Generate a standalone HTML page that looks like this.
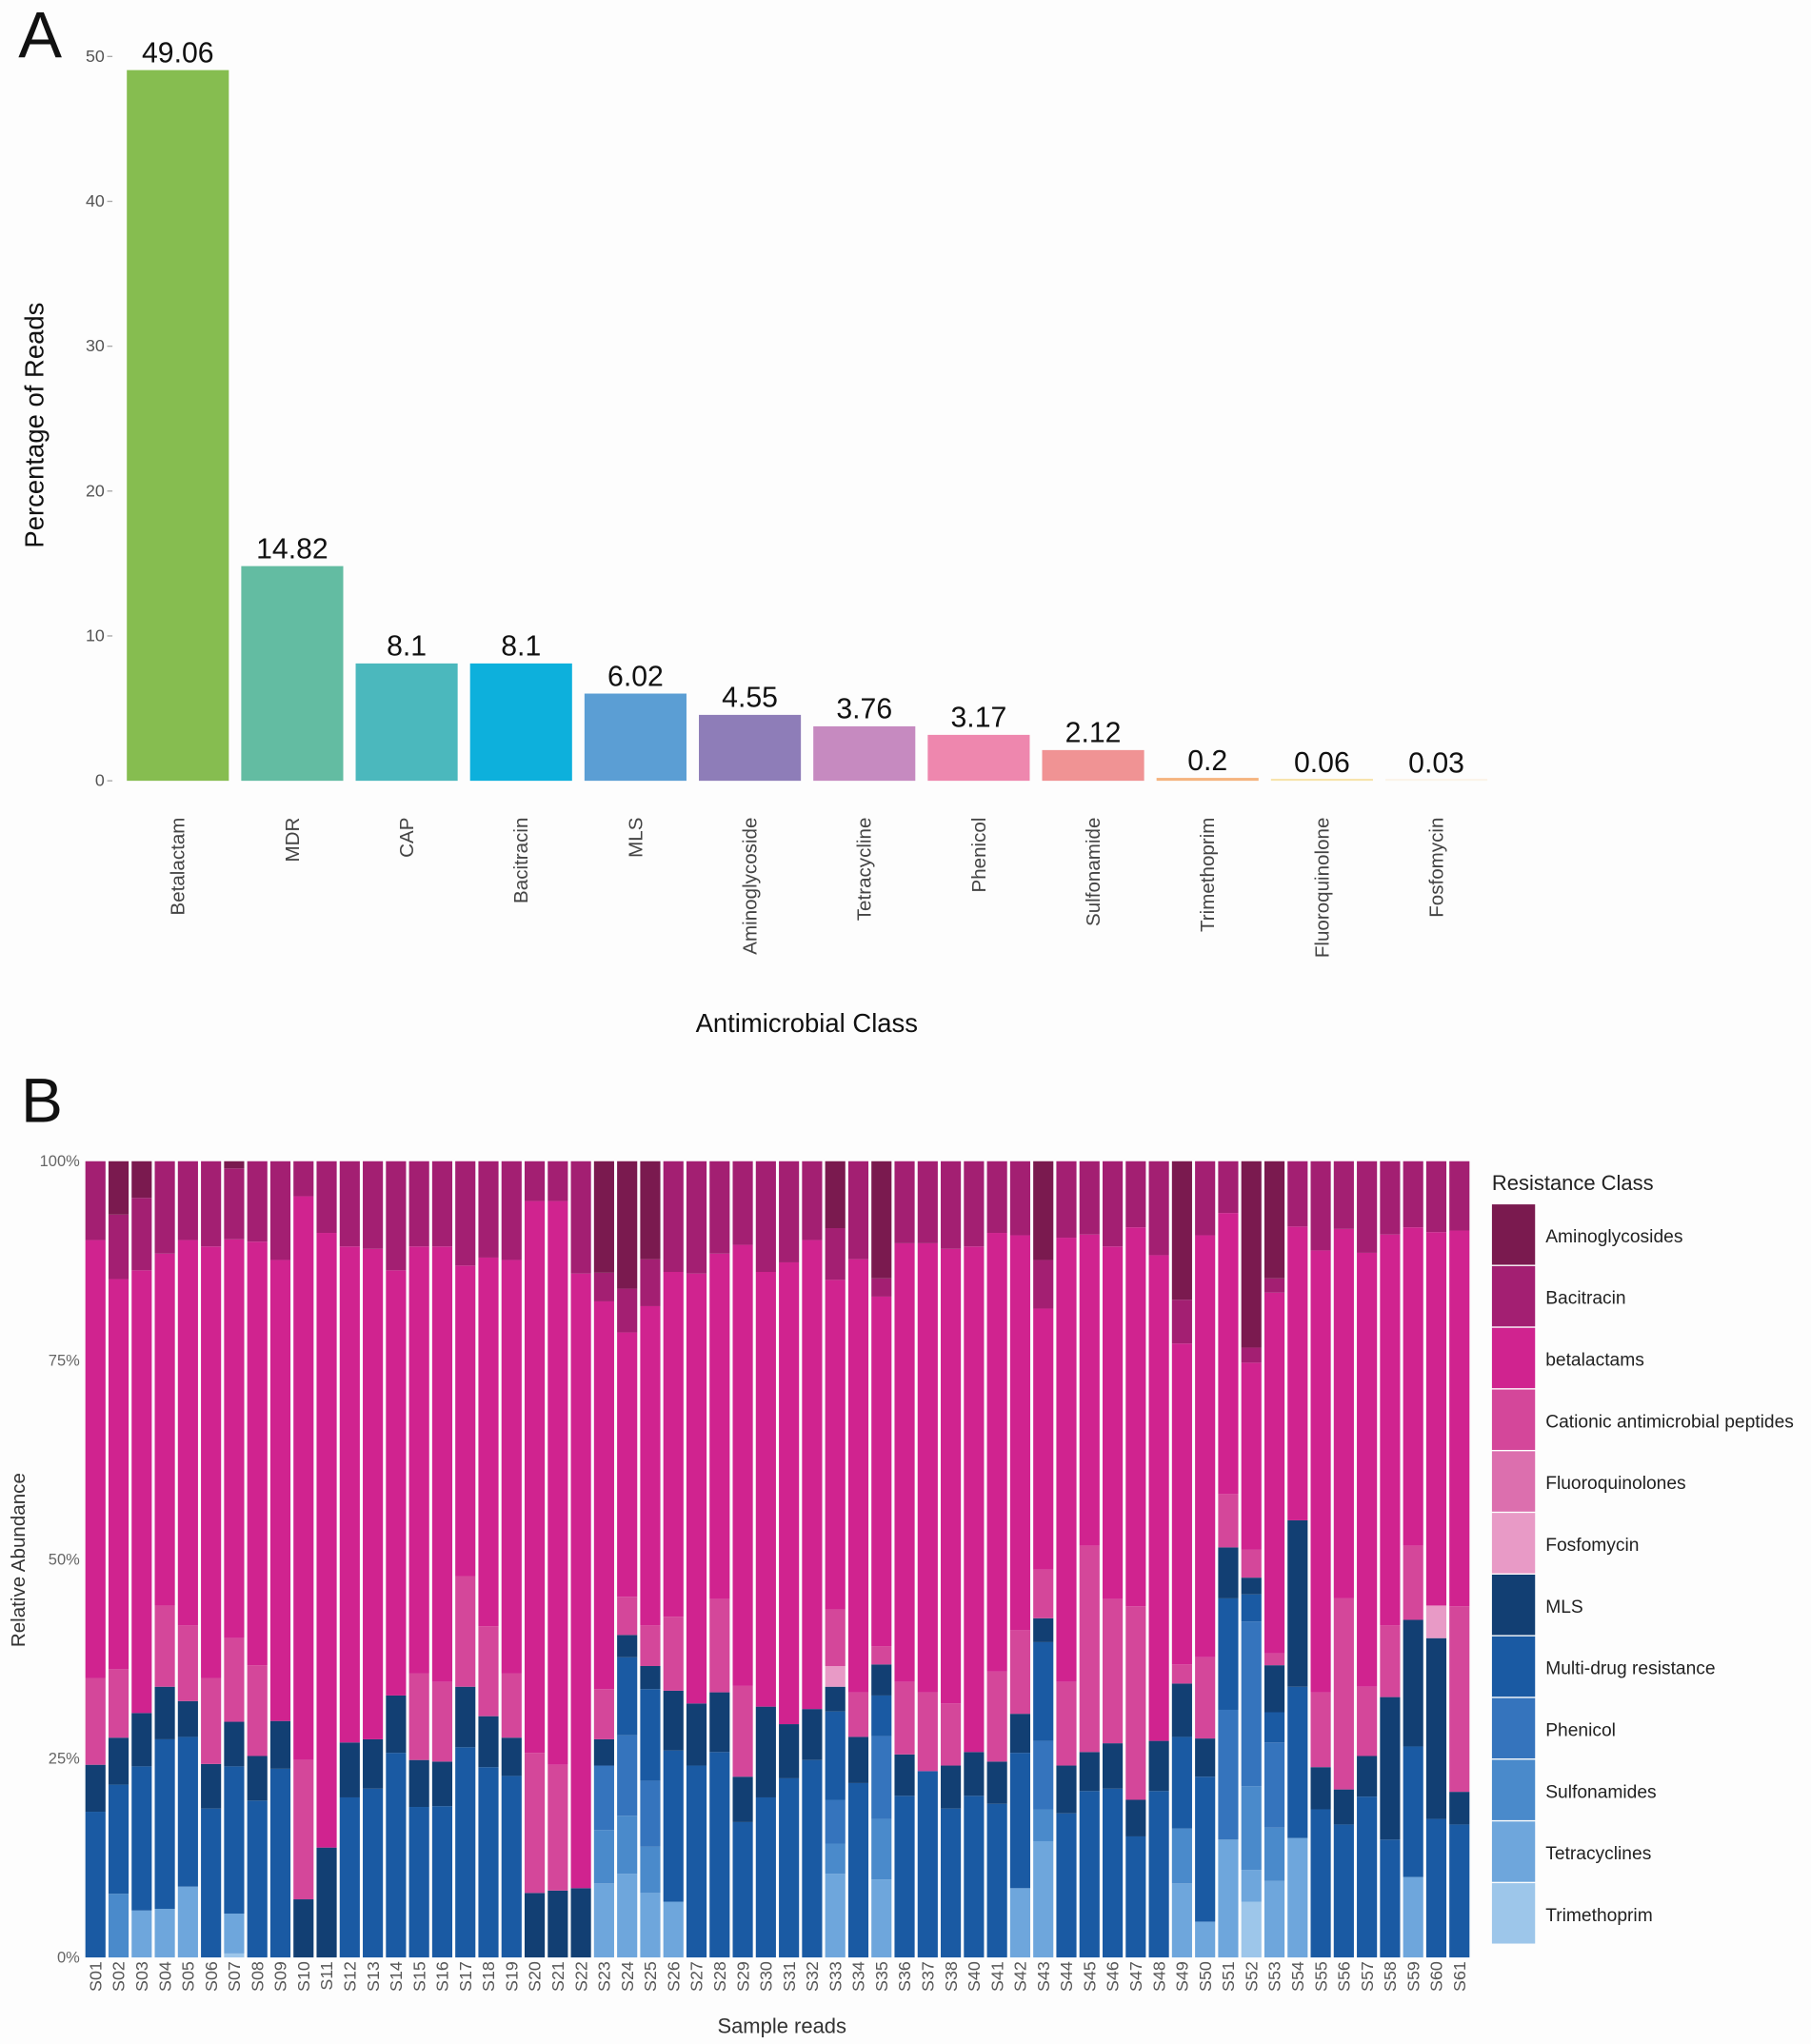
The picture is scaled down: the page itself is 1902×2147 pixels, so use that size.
<!DOCTYPE html>
<html><head><meta charset="utf-8">
<style>
html,body{margin:0;padding:0;background:#fdfdfd;}
svg{display:block;font-family:"Liberation Sans",Arial,sans-serif;}
</style></head>
<body>
<svg id="fig" width="1902" height="2147" viewBox="0 0 1385 1563" xmlns="http://www.w3.org/2000/svg">
<rect x="0" y="0" width="1385" height="1563" fill="#fdfdfd"/>
<text x="14" y="44" font-size="50" fill="#111">A</text>
<text x="16" y="858" font-size="48" fill="#111">B</text>
<g id="chartA"></g>
<g id="chartB"></g>
</svg>
<script>
// ---------- Panel A data ----------
const classCategories = ["Betalactam","MDR","CAP","Bacitracin","MLS","Aminoglycoside","Tetracycline","Phenicol","Sulfonamide","Trimethoprim","Fluoroquinolone","Fosfomycin"];
const classValues = [49.06,14.82,8.1,8.1,6.02,4.55,3.76,3.17,2.12,0.2,0.06,0.03];
const classLabels = ["49.06","14.82","8.1","8.1","6.02","4.55","3.76","3.17","2.12","0.2","0.06","0.03"];
const classColors = ["#86bd50","#63bca2","#4bb8bd","#0db0dc","#5b9ed4","#8e7db8","#c68ac0","#ee87ae","#f09394","#f5b47f","#f7e3a9","#fbf3e8"];
const yTicksA = [0,10,20,30,40,50];

// ---------- Panel B data ----------
const samples = ["S01","S02","S03","S04","S05","S06","S07","S08","S09","S10","S11","S12","S13","S14","S15","S16","S17","S18","S19","S20","S21","S22","S23","S24","S25","S26","S27","S28","S29","S30","S31","S32","S33","S34","S35","S36","S37","S38","S40","S41","S42","S43","S44","S45","S46","S47","S48","S49","S50","S51","S52","S53","S54","S55","S56","S57","S58","S59","S60","S61"];
const resistanceClasses = ["Aminoglycosides","Bacitracin","betalactams","Cationic antimicrobial peptides","Fluoroquinolones","Fosfomycin","MLS","Multi-drug resistance","Phenicol","Sulfonamides","Tetracyclines","Trimethoprim"];
const classColorsB = ["#7a1a4f","#a31f72","#d0238f","#d4479a","#dc6fae","#e89ac6","#123f73","#1a5aa3","#3574bd","#4a8acb","#6ea6dc","#9dc6ea"];
const yTicksB = [0,25,50,75,100];

const trimethoprim = [0,0,0,0,0,0,0.5,0,0,0, 0,0,0,0,0,0,0,0,0,0, 0,0,0,0,0,0,0,0,0,0, 0,0,0,0,0,0,0,0,0,0, 0,0,0,0,0,0,0,0,0,0, 7.0,0,0,0,0,0,0,0,0,0];
const tetracyclines = [0,0,5.9,6.1,8.9,0,5.0,0,0,0, 0,0,0,0,0,0,0,0,0,0, 0,0,9.3,10.5,8.1,7.0,0,0,0,0, 0,0,10.5,0,9.8,0,0,0,0,0, 8.7,14.6,0,0,0,0,0,9.3,4.5,14.8, 4.0,9.6,15.0,0,0,0,0,10.1,0,0];
const sulfonamides = [0,8.0,0,0,0,0,0,0,0,0, 0,0,0,0,0,0,0,0,0,0, 0,0,6.7,7.3,5.8,0,0,0,0,0, 0,0,3.8,0,7.6,0,0,0,0,0, 0,4.0,0,0,0,0,0,6.9,0,0, 10.5,6.7,0,0,0,0,0,0,0,0];
const phenicol = [0,0,0,0,0,0,0,0,0,0, 0,0,0,0,0,0,0,0,0,0, 0,0,8.1,10.1,8.3,0,0,0,0,0, 0,0,5.5,0,10.4,0,0,0,0,0, 0,8.6,0,0,0,0,0,0,0,16.3, 20.7,10.7,0,0,0,0,0,0,0,0];
const multiDrug = [18.3,13.7,18.1,21.3,18.8,18.7,18.5,19.7,23.7,0, 0,20.1,21.2,25.7,18.9,19.0,26.4,23.9,22.8,0, 0,0,0,9.8,11.5,19.0,24.1,25.8,17.0,20.1, 22.5,24.8,11.1,21.9,5.1,20.3,23.4,18.7,20.3,19.3, 17.0,12.4,18.1,20.9,21.2,15.2,20.9,11.5,18.2,14.0, 3.4,3.8,19.0,18.6,16.7,20.2,14.8,16.4,17.4,16.7];
const mls = [5.9,5.9,6.7,6.6,4.5,5.6,5.6,5.6,6.0,7.3, 13.8,6.9,6.2,7.2,5.9,5.6,7.6,6.4,4.8,8.1, 8.4,8.7,3.3,2.8,2.9,7.5,7.8,7.5,5.7,11.4, 6.8,6.4,3.1,5.8,3.9,5.2,0,5.4,5.5,5.3, 4.9,3.0,6.0,4.9,5.7,4.6,6.3,6.7,4.8,6.4, 2.1,5.9,20.9,5.3,4.4,5.1,17.9,15.9,22.7,4.1];
const fosfomycin = [0,0,0,0,0,0,0,0,0,0, 0,0,0,0,0,0,0,0,0,0, 0,0,0,0,0,0,0,0,0,0, 0,0,2.6,0,0,0,0,0,0,0, 0,0,0,0,0,0,0,0,0,0, 0,0,0,0,0,0,0,0,4.1,0];
const fluoroquinolones = [0,0,0,0,0,0,0,0,0,0, 0,0,0,0,0,0,0,0,0,0, 0,0,0,0,0,0,0,0,0,0, 0,0,0,0,0,0,0,0,0,0, 0,0,0,0,0,0,0,0,0,0, 0,0,0,0,0,0,0,0,0,0];
const cationicPeptides = [10.9,8.6,0,10.2,9.5,10.8,10.5,11.4,0,17.5, 0,0,0,0,10.9,10.0,13.9,11.3,8.1,17.6, 15.8,0,6.3,4.8,5.1,9.3,0,11.7,11.4,0, 0,0,7.1,5.6,2.3,9.1,9.9,7.8,0,11.3, 10.5,6.1,10.5,25.9,18.1,24.3,0,2.4,10.2,6.7, 3.5,1.5,0,9.4,24.0,8.7,9.0,9.3,0,23.3];
const betalactams = [55.0,49.0,55.6,44.2,48.4,54.2,50.1,53.2,57.9,70.8, 77.2,62.3,61.6,53.4,53.6,54.7,39.0,46.3,51.9,69.3, 70.8,77.2,48.7,33.2,40.1,43.3,54.0,43.4,55.4,54.6, 58.0,58.9,41.4,54.4,43.9,55.1,56.4,57.1,63.5,55.1, 49.6,32.8,55.8,39.1,44.3,47.6,61.0,40.3,53.0,35.3, 23.5,45.3,36.9,55.5,46.4,54.5,49.1,40.0,46.9,47.2];
const bacitracin = [9.9,8.1,9.1,11.6,9.9,10.7,8.9,10.1,12.4,4.4, 9.0,10.7,11.0,13.7,10.7,10.7,13.1,12.1,12.4,5.0, 5.0,14.1,3.6,5.5,5.9,13.9,14.1,11.6,10.5,13.9, 12.7,9.9,6.5,12.3,2.3,10.3,10.3,11.0,10.7,9.0, 9.3,6.1,9.6,9.2,10.7,8.3,11.8,5.5,9.3,6.5, 1.9,1.8,8.2,11.2,8.5,11.5,9.2,8.3,8.9,8.7];
const aminoglycosides = [0,6.7,4.6,0,0,0,0.9,0,0,0, 0,0,0,0,0,0,0,0,0,0, 0,0,14.0,16.0,12.3,0,0,0,0,0, 0,0,8.4,0,14.7,0,0,0,0,0, 0,12.4,0,0,0,0,0,17.4,0,0, 23.4,14.7,0,0,0,0,0,0,0,0];

const NS = "http://www.w3.org/2000/svg";
function mk(tag, attrs, parent, text){
  const e = document.createElementNS(NS, tag);
  for (const k in attrs) e.setAttribute(k, attrs[k]);
  if (text !== undefined) e.textContent = text;
  parent.appendChild(e);
  return e;
}

// ---------- Panel A ----------
(function(){
  const g = document.getElementById('chartA');
  const y0 = 597, y50 = 43;
  const yA = v => y0 - (v/50)*(y0-y50);
  const xA = i => 136 + i*87.5;
  const bw = 78;
  yTicksA.forEach(t => {
    const lbl = mk('text',{x:80,y:yA(t)+4,'font-size':13,fill:'#555','text-anchor':'end'},g,String(t));
    
    
    const tk = mk('line',{x1:82,x2:86,y1:yA(t),y2:yA(t),stroke:'#aaa','stroke-width':1},g);
    
    
  });
  classCategories.forEach((c,i) => {
    const v = classValues[i];
    const h = Math.max(yA(0)-yA(v), 1.5);
    const r = mk('rect',{x:xA(i)-bw/2,y:yA(0)-h,width:bw,height:h,fill:classColors[i]},g);
    
    
    const vl = mk('text',{x:xA(i),y:yA(v)-6,'font-size':22,fill:'#111','text-anchor':'middle'},g,classLabels[i]);
    
    
    const cl = mk('text',{x:0,y:0,'font-size':15,fill:'#444','text-anchor':'end',transform:`translate(${xA(i)+5},625) rotate(-90)`},g,c);
    
    
  });
  const xt = mk('text',{x:617,y:789,'font-size':20,fill:'#111','text-anchor':'middle'},g,'Antimicrobial Class');
  
  
  const yt = mk('text',{x:0,y:0,'font-size':20,fill:'#111','text-anchor':'middle',transform:'translate(33,325) rotate(-90)'},g,'Percentage of Reads');
  
  
})();

// ---------- Panel B ----------
(function(){
  const g = document.getElementById('chartB');
  const yTop = 888, yBot = 1497;
  const yB = p => yBot - (p/100)*(yBot-yTop);
  const xB = i => 73 + i*17.68;
  const bw = 15.4;
  const seriesBottomUp = [
    [trimethoprim,11],[tetracyclines,10],[sulfonamides,9],[phenicol,8],[multiDrug,7],[mls,6],
    [fosfomycin,5],[fluoroquinolones,4],[cationicPeptides,3],[betalactams,2],[bacitracin,1],[aminoglycosides,0]
  ];
  yTicksB.forEach(t => {
    const lbl = mk('text',{x:61,y:yB(t)+4,'font-size':12,fill:'#666','text-anchor':'end'},g,t+'%');
    
    
  });
  samples.forEach((s,i) => {
    let total = 0;
    seriesBottomUp.forEach(([arr]) => total += arr[i]);
    let cum = 0;
    seriesBottomUp.forEach(([arr,ci]) => {
      const v = arr[i];
      if (v <= 0) return;
      const pA = cum/total*100, pB = (cum+v)/total*100;
      cum += v;
      const r = mk('rect',{x:xB(i)-bw/2,y:yB(pB),width:bw,height:yB(pA)-yB(pB),fill:classColorsB[ci]},g);
      
      
    });
    const sl = mk('text',{x:0,y:0,'font-size':13,fill:'#555','text-anchor':'end',transform:`translate(${xB(i)+4.5},1500) rotate(-90)`},g,s);
    
    
  });
  const xt = mk('text',{x:598,y:1555,'font-size':16,fill:'#333','text-anchor':'middle'},g,'Sample reads');
  
  
  const yt = mk('text',{x:0,y:0,'font-size':15,fill:'#333','text-anchor':'middle',transform:'translate(19,1193) rotate(-90)'},g,'Relative Abundance');
  
  
  // legend
  const lt = mk('text',{x:1141,y:910,'font-size':16,fill:'#222'},g,'Resistance Class');
  
  
  resistanceClasses.forEach((c,k) => {
    const y = 921 + k*47.2;
    const key = mk('rect',{x:1141,y:y,width:33,height:46.2,fill:classColorsB[k]},g);
    
    
    const lb = mk('text',{x:1182,y:y+29,'font-size':14,fill:'#222'},g,c);
    
    
  });
})();
</script>
</body></html>
